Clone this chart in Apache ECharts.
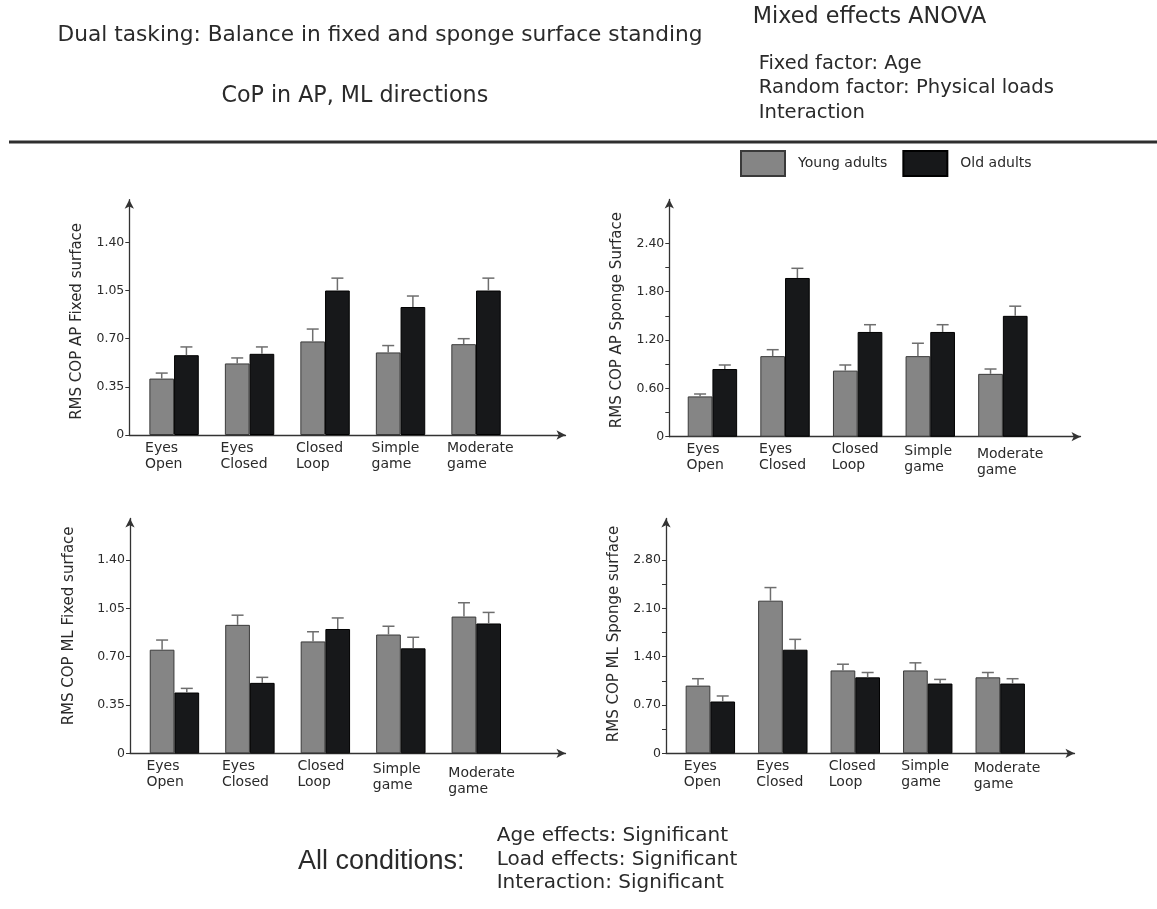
<!DOCTYPE html>
<html>
<head>
<meta charset="utf-8">
<title>Dual tasking: balance in fixed and sponge surface standing</title>
<script src="https://cdn.jsdelivr.net/npm/echarts@6/dist/echarts.min.js"></script>
<style>
  html, body { margin: 0; padding: 0; background: #ffffff; }
  #chart { width: 1157px; height: 909px; }
</style>
</head>
<body>
<div id="chart"></div>
<script>
// ---- data -------------------------------------------------------------
const categories = ['Eyes\nOpen', 'Eyes\nClosed', 'Closed\nLoop', 'Simple\ngame', 'Moderate\ngame'];
const groups = ['Young adults', 'Old adults'];

// RMS CoP, anterior-posterior, fixed surface (mean and upper error)
const apFixedYoung    = [0.41, 0.52, 0.68, 0.60, 0.66];
const apFixedYoungErr = [0.04, 0.04, 0.09, 0.05, 0.04];
const apFixedOld      = [0.58, 0.59, 1.05, 0.93, 1.05];
const apFixedOldErr   = [0.06, 0.05, 0.09, 0.08, 0.09];

// RMS CoP, anterior-posterior, sponge surface
const apSpongeYoung    = [0.50, 1.00, 0.82, 1.00, 0.78];
const apSpongeYoungErr = [0.03, 0.08, 0.07, 0.16, 0.06];
const apSpongeOld      = [0.84, 1.97, 1.30, 1.30, 1.50];
const apSpongeOldErr   = [0.05, 0.12, 0.09, 0.09, 0.12];

// RMS CoP, medio-lateral, fixed surface
const mlFixedYoung    = [0.75, 0.93, 0.81, 0.86, 0.99];
const mlFixedYoungErr = [0.07, 0.07, 0.07, 0.06, 0.10];
const mlFixedOld      = [0.44, 0.51, 0.90, 0.76, 0.94];
const mlFixedOldErr   = [0.03, 0.04, 0.08, 0.08, 0.08];

// RMS CoP, medio-lateral, sponge surface
const mlSpongeYoung    = [0.98, 2.21, 1.20, 1.20, 1.10];
const mlSpongeYoungErr = [0.10, 0.19, 0.09, 0.11, 0.07];
const mlSpongeOld      = [0.75, 1.50, 1.10, 1.01, 1.01];
const mlSpongeOldErr   = [0.08, 0.15, 0.07, 0.06, 0.07];

// y-axis tick values
const fixedTicks    = [0, 0.35, 0.70, 1.05, 1.40];
const apSpongeTicks = [0, 0.60, 1.20, 1.80, 2.40];
const apSpongeMinor = [0.30, 0.90, 1.50, 2.10];
const mlSpongeTicks = [0, 0.70, 1.40, 2.10, 2.80];
const mlSpongeMinor = [0.35, 1.05, 1.75, 2.45];

// ---- styling ----------------------------------------------------------
const FONT = 'DejaVu Sans';
const AXIS_COLOR = '#333333';
const TEXT_COLOR = '#2a2a2a';
const YOUNG_FILL = '#858585';
const YOUNG_EDGE = '#3a3a3a';
const OLD_FILL = '#17181a';
const OLD_EDGE = '#000000';
const ERR_COLOR = '#6e6e6e';
const BAR_W = 24.7;
const CAP_W = 12;

const panels = [
  {
    title: 'RMS COP AP Fixed surface',
    young: apFixedYoung, youngErr: apFixedYoungErr, old: apFixedOld, oldErr: apFixedOldErr,
    ticks: fixedTicks, minor: [], yMax: 1.71,
    grid: { left: 129.3, top: 199.7, width: 436.2, height: 235.3 },
    xMin: -0.593, xMax: 5.185,
    nameGap: 45, nameShift: 4, labelWidth: 58, labelDrop: [0, 0, 0, 0, 0]
  },
  {
    title: 'RMS COP AP Sponge Surface',
    young: apSpongeYoung, youngErr: apSpongeYoungErr, old: apSpongeOld, oldErr: apSpongeOldErr,
    ticks: apSpongeTicks, minor: apSpongeMinor, yMax: 2.944,
    grid: { left: 669.3, top: 199.5, width: 411.2, height: 237.2 },
    xMin: -0.594, xMax: 5.069,
    nameGap: 45, nameShift: 2, labelWidth: 52, labelDrop: [0, 0, 0, 1.5, 5]
  },
  {
    title: 'RMS COP ML Fixed surface',
    young: mlFixedYoung, youngErr: mlFixedYoungErr, old: mlFixedOld, oldErr: mlFixedOldErr,
    ticks: fixedTicks, minor: [], yMax: 1.70,
    grid: { left: 130, top: 518.5, width: 435.5, height: 234.8 },
    xMin: -0.589, xMax: 5.182,
    nameGap: 53, nameShift: -10, labelWidth: 56, labelDrop: [0, 0, 0, 3.5, 7]
  },
  {
    title: 'RMS COP ML Sponge surface',
    young: mlSpongeYoung, youngErr: mlSpongeYoungErr, old: mlSpongeOld, oldErr: mlSpongeOldErr,
    ticks: mlSpongeTicks, minor: mlSpongeMinor, yMax: 3.40,
    grid: { left: 666, top: 518.5, width: 408.5, height: 234.8 },
    xMin: -0.612, xMax: 5.025,
    nameGap: 44, nameShift: -2, labelWidth: 53, labelDrop: [0, 0, 0, 0, 2]
  }
];

// ---- option building --------------------------------------------------
const grids = [], xAxes = [], yAxes = [], series = [];

function errorBars(values, errs, side, k) {
  return {
    type: 'custom',
    name: groups[side < 0 ? 0 : 1] + ' error',
    xAxisIndex: k, yAxisIndex: k,
    silent: true, clip: false, z: 5,
    encode: { x: 0, y: 1 },
    data: values.map((v, i) => [i, v, errs[i], side]),
    renderItem: function (params, api) {
      const i = api.value(0), v = api.value(1), e = api.value(2), s = api.value(3);
      const base = api.coord([i, v]);
      const top = api.coord([i, v + e]);
      const x = base[0] + s * BAR_W / 2;
      const st = { stroke: ERR_COLOR, lineWidth: 1.5 };
      return {
        type: 'group',
        children: [
          { type: 'line', shape: { x1: x, y1: base[1], x2: x, y2: top[1] }, style: st },
          { type: 'line', shape: { x1: x - CAP_W / 2, y1: top[1], x2: x + CAP_W / 2, y2: top[1] }, style: st }
        ]
      };
    }
  };
}

panels.forEach((p, k) => {
  grids.push(Object.assign({ outerBoundsMode: 'none', containLabel: false }, p.grid));

  const rich = {
    c: { fontFamily: FONT, fontSize: 14, lineHeight: 16, width: p.labelWidth, align: 'left', color: TEXT_COLOR }
  };
  p.labelDrop.forEach((d, i) => {
    rich['s' + i] = { fontSize: 1, lineHeight: d, width: p.labelWidth };
  });

  xAxes.push({
    type: 'value', gridIndex: k, min: p.xMin, max: p.xMax,
    splitLine: { show: false },
    axisTick: { show: false },
    axisLine: {
      show: true, onZero: false,
      symbol: ['none', 'arrow'], symbolSize: [7, 9],
      lineStyle: { color: AXIS_COLOR, width: 1.3 }
    },
    axisLabel: {
      customValues: categories.map((_, i) => i),
      margin: 5,
      formatter: function (v) {
        const i = Math.round(v);
        const lines = categories[i].split('\n').map(s => '{c|' + s + '}').join('\n');
        return p.labelDrop[i] > 0 ? '{s' + i + '| }\n' + lines : lines;
      },
      rich: rich
    }
  });

  const sh = p.nameShift;
  yAxes.push({
    type: 'value', gridIndex: k, min: 0, max: p.yMax,
    name: p.title, nameLocation: 'middle', nameGap: p.nameGap, nameRotate: 90,
    nameTextStyle: {
      fontFamily: FONT, fontSize: 15, color: TEXT_COLOR,
      padding: sh >= 0 ? [0, 2 * sh, 0, 0] : [0, 0, 0, -2 * sh]
    },
    splitLine: { show: false },
    axisLine: {
      show: true, onZero: false,
      symbol: ['none', 'arrow'], symbolSize: [7, 9],
      lineStyle: { color: AXIS_COLOR, width: 1.3 }
    },
    axisTick: {
      show: true, inside: false, length: 4,
      customValues: p.ticks.concat(p.minor),
      lineStyle: { color: AXIS_COLOR, width: 1 }
    },
    axisLabel: {
      customValues: p.ticks,
      margin: 5,
      fontFamily: FONT, fontSize: 12.5, color: TEXT_COLOR,
      formatter: v => (v === 0 ? '0' : v.toFixed(2))
    }
  });

  series.push({
    type: 'bar', name: groups[0], xAxisIndex: k, yAxisIndex: k,
    barWidth: BAR_W, barGap: '0%',
    itemStyle: { color: YOUNG_FILL, borderColor: YOUNG_EDGE, borderWidth: 1 },
    emphasis: { disabled: true },
    data: p.young.map((v, i) => [i, v])
  });
  series.push({
    type: 'bar', name: groups[1], xAxisIndex: k, yAxisIndex: k,
    barWidth: BAR_W, barGap: '0%',
    itemStyle: { color: OLD_FILL, borderColor: OLD_EDGE, borderWidth: 1 },
    emphasis: { disabled: true },
    data: p.old.map((v, i) => [i, v])
  });
  series.push(errorBars(p.young, p.youngErr, -1, k));
  series.push(errorBars(p.old, p.oldErr, 1, k));
});

function txt(text, x, y, size, family) {
  return {
    type: 'text', x: x, y: y, silent: true,
    style: {
      text: text, fontFamily: family || FONT, fontSize: size,
      fill: TEXT_COLOR, align: 'left', verticalAlign: 'middle'
    }
  };
}

const option = {
  animation: false,
  backgroundColor: '#ffffff',
  grid: grids,
  xAxis: xAxes,
  yAxis: yAxes,
  series: series,
  legend: {
    left: 740, top: 150, padding: 0,
    icon: 'rect', itemWidth: 44, itemHeight: 25, itemGap: 15,
    selectedMode: false,
    textStyle: { fontFamily: FONT, fontSize: 14, color: TEXT_COLOR, padding: [0, 0, 0, 8] },
    data: [
      { name: groups[0], textStyle: { padding: [0, 0, 3, 8] } },
      { name: groups[1], textStyle: { padding: [4, 0, 0, 8] } }
    ]
  },
  graphic: [
    txt('Dual tasking: Balance in fixed and sponge surface standing', 57.6, 35, 21.7),
    txt('CoP in AP, ML directions', 221.4, 96, 22.2),
    txt('Mixed effects ANOVA', 752.8, 17.5, 22.3),
    txt('Fixed factor: Age', 758.7, 63.5, 19.4),
    txt('Random factor: Physical loads', 758.7, 87.5, 19.6),
    txt('Interaction', 758.7, 112.5, 19.6),
    {
      type: 'line', silent: true,
      shape: { x1: 9, y1: 142, x2: 1157, y2: 142 },
      style: { stroke: '#2e2e2e', lineWidth: 3 }
    },
    txt('All conditions:', 298, 862, 27, 'Liberation Sans'),
    txt('Age effects: Significant', 496.7, 836, 20),
    txt('Load effects: Significant', 496.7, 859.5, 20),
    txt('Interaction: Significant', 496.7, 883, 20)
  ]
};

const chart = echarts.init(document.getElementById('chart'), null, { renderer: 'canvas' });
chart.setOption(option);
</script>
</body>
</html>
